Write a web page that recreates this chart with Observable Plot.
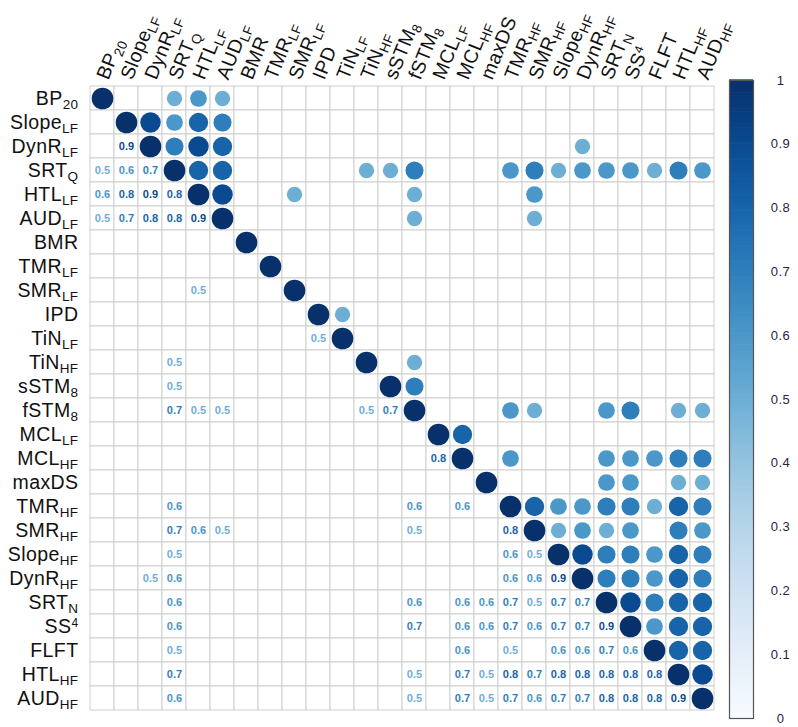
<!DOCTYPE html>
<html>
<head>
<meta charset="utf-8">
<script src="https://cdn.jsdelivr.net/npm/d3@7"></script>
<script src="https://cdn.jsdelivr.net/npm/@observablehq/plot@0.6"></script>
<style>
  html, body { margin: 0; padding: 0; background: #fff; }
  #wrap { position: relative; width: 798px; height: 727px; }
  #wrap svg { position: absolute; left: 0; top: 0; }
  #wrap g[aria-label$="tick label"] text { letter-spacing: 0.4px; }
</style>
</head>
<body>
<div id="wrap"></div>
<script>
// Variable names ("_" = subscript, "^" = superscript)
const vars = ["BP_20","Slope_LF","DynR_LF","SRT_Q","HTL_LF","AUD_LF","BMR","TMR_LF","SMR_LF","IPD",
  "TiN_LF","TiN_HF","sSTM_8","fSTM_8","MCL_LF","MCL_HF","maxDS","TMR_HF","SMR_HF","Slope_HF",
  "DynR_HF","SRT_N","SS^4","FLFT","HTL_HF","AUD_HF"];

// Correlations shown (lower-triangle row index, column index, r)
const corrRow = [2, 3,3,3, 4,4,4,4, 5,5,5,5,5, 8, 10, 11, 12, 13,13,13,13,13, 15,
  17,17,17, 18,18,18,18,18, 19,19,19, 20,20,20,20,20,
  21,21,21,21,21,21,21,21, 22,22,22,22,22,22,22,22,22,
  23,23,23,23,23,23,23, 24,24,24,24,24,24,24,24,24,24,24,
  25,25,25,25,25,25,25,25,25,25,25,25];
const corrCol = [1, 0,1,2, 0,1,2,3, 0,1,2,3,4, 4, 9, 3, 3, 3,4,5,11,12, 14,
  3,13,15, 3,4,5,13,17, 3,17,18, 2,3,17,18,19,
  3,13,15,16,17,18,19,20, 3,13,15,16,17,18,19,20,21,
  3,15,17,19,20,21,22, 3,13,15,16,17,18,19,20,21,22,23,
  3,13,15,16,17,18,19,20,21,22,23,24];
const corrVal = [0.9, 0.5,0.6,0.7, 0.6,0.8,0.9,0.8, 0.5,0.7,0.8,0.8,0.9, 0.5, 0.5, 0.5, 0.5, 0.7,0.5,0.5,0.5,0.7, 0.8,
  0.6,0.6,0.6, 0.7,0.6,0.5,0.5,0.8, 0.5,0.6,0.5, 0.5,0.6,0.6,0.6,0.9,
  0.6,0.6,0.6,0.6,0.7,0.5,0.7,0.7, 0.6,0.7,0.6,0.6,0.7,0.6,0.7,0.7,0.9,
  0.5,0.6,0.5,0.6,0.6,0.7,0.6, 0.7,0.5,0.7,0.5,0.8,0.7,0.8,0.8,0.8,0.8,0.8,
  0.6,0.5,0.7,0.5,0.7,0.6,0.7,0.7,0.8,0.8,0.8,0.9];

// Colour bar ticks
const legendTicks = [0, 0.1, 0.2, 0.3, 0.4, 0.5, 0.6, 0.7, 0.8, 0.9, 1];

const W = 798, H = 727;
const font = "'Liberation Sans', Arial, sans-serif";

const grid = vars.flatMap(r => vars.map(c => ({row: r, col: c})));
const lower = corrVal.map((v, k) => ({row: vars[corrRow[k]], col: vars[corrCol[k]], r: v}));
const upper = [
  ...vars.map(v => ({row: v, col: v, r: 1})),
  ...corrVal.map((v, k) => ({row: vars[corrCol[k]], col: vars[corrRow[k]], r: v}))
];

const colorOpts = {type: "linear", scheme: "blues", domain: [0, 1]};

const main = Plot.plot({
  width: W, height: H,
  marginLeft: 86, marginRight: 81, marginTop: 83, marginBottom: 14,
  style: {fontFamily: font, background: "transparent"},
  x: {type: "band", domain: vars, padding: 0},
  y: {type: "band", domain: vars, padding: 0},
  r: {type: "sqrt", domain: [0, 1], range: [0, 10.8]},
  color: colorOpts,
  marks: [
    Plot.cell(grid, {x: "col", y: "row", fill: "white", stroke: "#cfcfcf", strokeWidth: 1, inset: 0}),
    Plot.dot(upper, {x: "col", y: "row", r: "r", fill: "r", stroke: "none"}),
    Plot.text(lower, {x: "col", y: "row", text: d => d.r.toFixed(1), fill: "r", fontSize: 11, fontWeight: "bold"}),
    Plot.axisX({anchor: "top", tickSize: 0, tickPadding: 5, tickRotate: -68, textAnchor: "start",
      fontSize: 19.5, fill: "#111", label: null}),
    Plot.axisY({anchor: "left", tickSize: 0, tickPadding: 8, fontSize: 19.5, fill: "#111", label: null})
  ]
});

const bar = Plot.plot({
  width: W, height: H,
  marginLeft: 729, marginRight: 45, marginTop: 80, marginBottom: 9,
  style: {fontFamily: font, background: "transparent"},
  y: {domain: [0, 1]},
  color: colorOpts,
  marks: [
    Plot.rect(d3.range(0, 200), {y1: i => i / 200, y2: i => (i + 1) / 200 + 0.001, fill: i => (i + 0.5) / 200, inset: 0}),
    Plot.frame({stroke: "#555", strokeWidth: 1.2}),
    Plot.axisY({anchor: "right", ticks: legendTicks, tickSize: 5, tickPadding: 22, textAnchor: "middle",
      fontSize: 13, fill: "#2a2340", stroke: null, label: null, tickFormat: d3.format("")})
  ]
});

// Convert "_" / "^" markup in tick labels into real sub/superscripts
const NS = "http://www.w3.org/2000/svg";
main.querySelectorAll('g[aria-label$="tick label"] text').forEach(t => {
  const s = t.textContent;
  const m = s.match(/^(.*?)([_^])(.*)$/);
  if (m) {
    t.textContent = m[1];
    const ts = document.createElementNS(NS, "tspan");
    ts.textContent = m[3];
    ts.setAttribute("font-size", m[2] === "_" ? "13.5" : "12");
    ts.setAttribute("dy", m[2] === "_" ? "4" : "-5.5");
    t.appendChild(ts);
  }
});

const wrap = document.getElementById("wrap");
wrap.appendChild(main);
wrap.appendChild(bar);
</script>
</body>
</html>
